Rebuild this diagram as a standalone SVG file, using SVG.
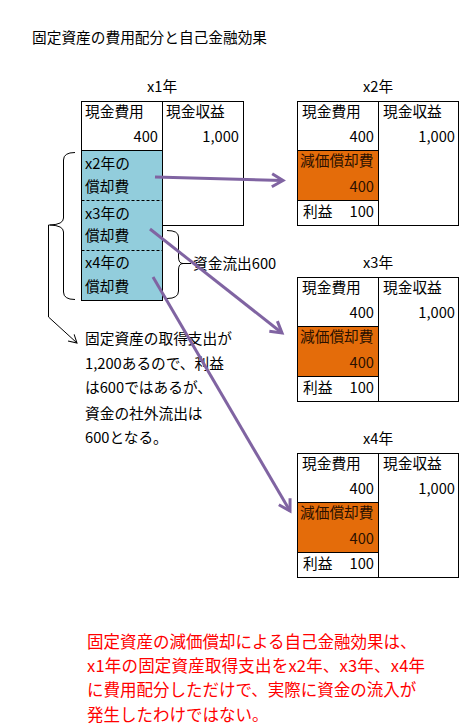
<svg xmlns="http://www.w3.org/2000/svg" width="460" height="726" viewBox="0 0 460 726">
<defs>
<style>
text{font-family:"Noto Sans CJK JP","Noto Sans",sans-serif;font-size:14.7px;fill:#000}
.r{text-anchor:end}
.c{text-anchor:middle}
.cell{fill:#fff;stroke:#000;stroke-width:1}
.blue{fill:#92CDDC;stroke:#000;stroke-width:1}
.org{fill:#E46C0A;stroke:#000;stroke-width:1}
.dash{stroke:#000;stroke-width:1;stroke-dasharray:3,2;fill:none}
.brace{fill:none;stroke:#000;stroke-width:1}
.arrow{fill:none;stroke:#8064A2;stroke-width:3;marker-end:url(#ah)}
.red{fill:#FF0000;font-size:16.5px}
.ot{fill:#2a1000}
</style>
<marker id="ah" markerUnits="userSpaceOnUse" markerWidth="20" markerHeight="20" refX="14" refY="10" orient="auto">
<path d="M3,3.5 L14,10 L3,16.5" fill="none" stroke="#8064A2" stroke-width="3" stroke-linejoin="miter"/>
</marker>
<marker id="bh" markerUnits="userSpaceOnUse" markerWidth="14" markerHeight="14" refX="10" refY="7" orient="auto">
<path d="M2,2.5 L10,7 L2,11.5" fill="none" stroke="#000" stroke-width="1"/>
</marker>
</defs>
<rect width="460" height="726" fill="#fff"/>

<g id="title">
<text x="32" y="42.5">固定資産の費用配分と自己金融効果</text>
</g>

<g id="node-x1">
<text class="c" x="162" y="92">x1年</text>
<rect class="cell" x="162.5" y="101.5" width="81" height="124"/>
<rect class="cell" x="81.5" y="101.5" width="81" height="49"/>
<rect class="blue" x="81.5" y="150.5" width="81" height="150"/>
<line class="dash" x1="81.5" y1="200.5" x2="162.5" y2="200.5"/>
<line class="dash" x1="81.5" y1="250.5" x2="162.5" y2="250.5"/>
<text x="85" y="117">現金費用</text>
<text class="r" x="158" y="142">400</text>
<text x="166" y="117">現金収益</text>
<text class="r" x="239" y="142">1,000</text>
<text x="85" y="168.5">x2年の</text>
<text x="85" y="192">償却費</text>
<text x="85" y="218.5">x3年の</text>
<text x="85" y="241">償却費</text>
<text x="85" y="267.5">x4年の</text>
<text x="85" y="291.5">償却費</text>
</g>

<g id="node-x2">
<text class="c" x="378" y="92">x2年</text>
<rect class="cell" x="297.5" y="101.5" width="81" height="124"/>
<rect class="cell" x="378.5" y="101.5" width="80" height="124"/>
<rect class="org" x="297.5" y="150.5" width="81" height="50"/>
<text x="302" y="117">現金費用</text>
<text class="r" x="374" y="142">400</text>
<text x="383" y="117">現金収益</text>
<text class="r" x="455" y="142">1,000</text>
<text class="ot" x="300" y="166">減価償却費</text>
<text class="r ot" x="374" y="192">400</text>
<text x="303" y="217">利益</text>
<text class="r" x="374" y="217">100</text>
</g>

<g id="node-x3" transform="translate(0,176)">
<text class="c" x="378" y="92">x3年</text>
<rect class="cell" x="297.5" y="101.5" width="81" height="124"/>
<rect class="cell" x="378.5" y="101.5" width="80" height="124"/>
<rect class="org" x="297.5" y="150.5" width="81" height="50"/>
<text x="302" y="117">現金費用</text>
<text class="r" x="374" y="142">400</text>
<text x="383" y="117">現金収益</text>
<text class="r" x="455" y="142">1,000</text>
<text class="ot" x="300" y="166">減価償却費</text>
<text class="r ot" x="374" y="192">400</text>
<text x="303" y="217">利益</text>
<text class="r" x="374" y="217">100</text>
</g>

<g id="node-x4" transform="translate(0,352)">
<text class="c" x="378" y="92">x4年</text>
<rect class="cell" x="297.5" y="101.5" width="81" height="124"/>
<rect class="cell" x="378.5" y="101.5" width="80" height="124"/>
<rect class="org" x="297.5" y="150.5" width="81" height="50"/>
<text x="302" y="117">現金費用</text>
<text class="r" x="374" y="142">400</text>
<text x="383" y="117">現金収益</text>
<text class="r" x="455" y="142">1,000</text>
<text class="ot" x="300" y="166">減価償却費</text>
<text class="r ot" x="374" y="192">400</text>
<text x="303" y="217">利益</text>
<text class="r" x="374" y="217">100</text>
</g>

<g id="brace-left">
<path class="brace" d="M75,152.5 Q63.5,152.5 63.5,160 L63.5,218 Q63.5,224.5 50,225 Q63.5,225.5 63.5,232 L63.5,292 Q63.5,299.5 75,299.5"/>
</g>

<g id="brace-right">
<path class="brace" d="M167,230.5 Q178.5,230.5 178.5,237 L178.5,257 Q178.5,263.5 183,263.5 Q178.5,263.5 178.5,270 L178.5,291 Q178.5,298.5 167,298.5"/>
<line class="brace" x1="183" y1="263.5" x2="191" y2="263.5"/>
<text x="193" y="268.5">資金流出600</text>
</g>

<g id="note">
<text x="85" y="343.5">固定資産の取得支出が</text>
<text x="85" y="368.5">1,200あるので、利益</text>
<text x="85" y="392.5">は600ではあるが、</text>
<text x="85" y="418.5">資金の社外流出は</text>
<text x="85" y="442.5">600となる。</text>
</g>

<g id="connectors">
<path class="brace" d="M50,225 L48.5,225 L48.5,317 L77,343" marker-end="url(#bh)"/>
<line class="arrow" x1="155" y1="177" x2="283" y2="180.5"/>
<line class="arrow" x1="150" y1="229" x2="282" y2="333"/>
<line class="arrow" x1="153" y1="277" x2="290" y2="511"/>
</g>

<g id="red-note">
<text class="red" x="87" y="648">固定資産の減価償却による自己金融効果は、</text>
<text class="red" x="87" y="672" textLength="338" lengthAdjust="spacing">x1年の固定資産取得支出をx2年、x3年、x4年</text>
<text class="red" x="87" y="696">に費用配分しただけで、実際に資金の流入が</text>
<text class="red" x="87" y="721">発生したわけではない。</text>
</g>
</svg>
